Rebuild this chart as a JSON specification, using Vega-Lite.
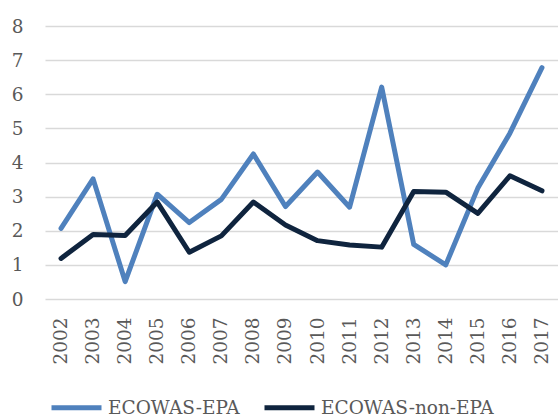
{
  "$schema": "https://vega.github.io/schema/vega-lite/v6.json",
  "width": 513,
  "height": 273,
  "autosize": "none",
  "padding": {"left": 45, "top": 26, "right": 0, "bottom": 115},
  "background": "white",
  "config": {
    "view": {"stroke": null},
    "font": "DejaVu Serif"
  },
  "data": {
    "values": [
      {"year": "2002", "series": "ECOWAS-EPA", "value": 2.07},
      {"year": "2003", "series": "ECOWAS-EPA", "value": 3.52},
      {"year": "2004", "series": "ECOWAS-EPA", "value": 0.51},
      {"year": "2005", "series": "ECOWAS-EPA", "value": 3.07},
      {"year": "2006", "series": "ECOWAS-EPA", "value": 2.24},
      {"year": "2007", "series": "ECOWAS-EPA", "value": 2.92},
      {"year": "2008", "series": "ECOWAS-EPA", "value": 4.25},
      {"year": "2009", "series": "ECOWAS-EPA", "value": 2.71},
      {"year": "2010", "series": "ECOWAS-EPA", "value": 3.72},
      {"year": "2011", "series": "ECOWAS-EPA", "value": 2.69},
      {"year": "2012", "series": "ECOWAS-EPA", "value": 6.21},
      {"year": "2013", "series": "ECOWAS-EPA", "value": 1.6},
      {"year": "2014", "series": "ECOWAS-EPA", "value": 1.0},
      {"year": "2015", "series": "ECOWAS-EPA", "value": 3.25},
      {"year": "2016", "series": "ECOWAS-EPA", "value": 4.86},
      {"year": "2017", "series": "ECOWAS-EPA", "value": 6.78},
      {"year": "2002", "series": "ECOWAS-non-EPA", "value": 1.19},
      {"year": "2003", "series": "ECOWAS-non-EPA", "value": 1.89},
      {"year": "2004", "series": "ECOWAS-non-EPA", "value": 1.86},
      {"year": "2005", "series": "ECOWAS-non-EPA", "value": 2.84},
      {"year": "2006", "series": "ECOWAS-non-EPA", "value": 1.37},
      {"year": "2007", "series": "ECOWAS-non-EPA", "value": 1.85},
      {"year": "2008", "series": "ECOWAS-non-EPA", "value": 2.84},
      {"year": "2009", "series": "ECOWAS-non-EPA", "value": 2.17},
      {"year": "2010", "series": "ECOWAS-non-EPA", "value": 1.71},
      {"year": "2011", "series": "ECOWAS-non-EPA", "value": 1.58},
      {"year": "2012", "series": "ECOWAS-non-EPA", "value": 1.52},
      {"year": "2013", "series": "ECOWAS-non-EPA", "value": 3.15},
      {"year": "2014", "series": "ECOWAS-non-EPA", "value": 3.13},
      {"year": "2015", "series": "ECOWAS-non-EPA", "value": 2.51},
      {"year": "2016", "series": "ECOWAS-non-EPA", "value": 3.61},
      {"year": "2017", "series": "ECOWAS-non-EPA", "value": 3.17}
    ]
  },
  "mark": {"type": "line", "strokeWidth": 5, "strokeCap": "round", "strokeJoin": "round"},
  "encoding": {
    "x": {
      "field": "year",
      "type": "ordinal",
      "scale": {"type": "band", "paddingInner": 0, "paddingOuter": 0},
      "axis": {
        "title": null,
        "domain": false,
        "ticks": false,
        "grid": false,
        "labelAngle": -90,
        "labelAlign": "right",
        "labelBaseline": "middle",
        "labelPadding": 18,
        "labelFontSize": 18.5,
        "labelColor": "#595959",
        "labelFont": "DejaVu Serif"
      }
    },
    "y": {
      "field": "value",
      "type": "quantitative",
      "scale": {"domain": [0, 8], "nice": false},
      "axis": {
        "title": null,
        "domain": false,
        "ticks": false,
        "values": [0, 1, 2, 3, 4, 5, 6, 7, 8],
        "grid": true,
        "gridColor": "#D9D9D9",
        "gridWidth": 1.5,
        "labelPadding": 22,
        "labelFontSize": 18.5,
        "labelColor": "#595959",
        "labelFont": "DejaVu Serif"
      }
    },
    "color": {
      "field": "series",
      "type": "nominal",
      "scale": {"domain": ["ECOWAS-EPA", "ECOWAS-non-EPA"], "range": ["#4F81BD", "#0F243E"]},
      "legend": {
        "title": null,
        "orient": "none",
        "direction": "horizontal",
        "legendX": 4,
        "legendY": 354,
        "symbolType": "stroke",
        "symbolSize": 2500,
        "symbolStrokeWidth": 5,
        "labelOffset": 4,
        "columnPadding": 14,
        "labelFontSize": 18.5,
        "labelColor": "#595959",
        "labelFont": "DejaVu Serif",
        "labelLimit": 0
      }
    }
  }
}
